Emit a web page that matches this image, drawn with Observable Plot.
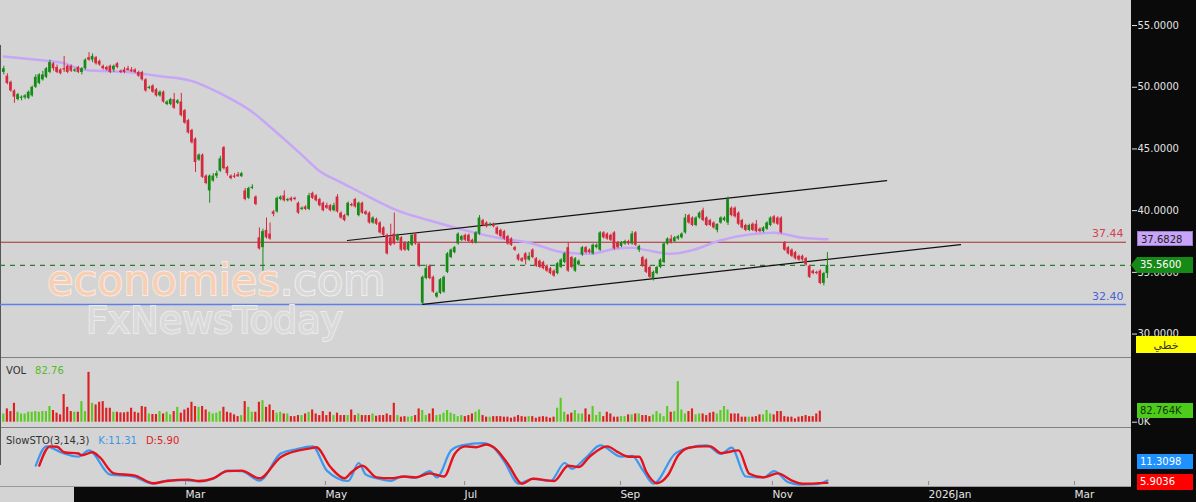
<!DOCTYPE html>
<html><head><meta charset="utf-8">
<script src="https://cdn.jsdelivr.net/npm/d3@7"></script>
<script src="https://cdn.jsdelivr.net/npm/@observablehq/plot@0.6"></script>
<style>
html,body{margin:0;padding:0;background:#d4d4d4;}
#wrap{position:relative;width:1196px;height:502px;overflow:hidden;background:#d4d4d4;font-family:"DejaVu Sans",sans-serif;}
.abs{position:absolute;}
.box{position:absolute;left:1137px;width:56px;height:15px;line-height:15px;font-size:10px;padding-left:3px;box-sizing:border-box;font-family:"DejaVu Sans",sans-serif;}
.lbl{position:absolute;font-size:10px;line-height:12px;white-space:nowrap;font-family:"DejaVu Sans",sans-serif;}
</style></head>
<body><div id="wrap"></div>
<script>
// ---------- DATA ----------
const opens = [51.2,50.9,50.4,49.7,49.0,49.1,49.15,49.1,49.3,50.0,
50.3,50.6,50.8,51.2,51.9,51.6,51.4,51.5,51.7,51.7,
51.3,51.6,51.2,51.5,52.4,52.2,52.4,52.1,51.7,51.6,
51.7,51.4,51.9,51.3,51.4,51.5,51.4,51.4,51.2,51.2,
50.6,49.9,50.1,49.8,49.3,49.6,48.6,48.6,49.0,48.7,
48.8,48.1,47.3,46.5,45.8,44.1,44.5,42.8,41.6,42.4,
42.8,43.2,45.1,43.5,42.8,42.8,42.9,42.75,41.6,41.0,
41.8,41.1,37.8,37.0,38.4,38.1,39.9,39.9,40.9,41.2,
40.8,41.0,41.0,40.6,40.1,40.3,40.1,41.4,41.2,40.9,
40.6,40.4,40.4,40.0,41.1,39.8,39.6,39.6,40.5,40.9,
39.6,40.6,39.9,39.8,39.0,39.3,39.0,38.6,38.0,37.8,
38.1,37.6,37.8,37.4,36.8,37.2,38.1,37.3,32.5,34.5,
35.5,34.6,33.0,33.3,33.4,35.0,36.2,36.6,37.3,37.6,
38.0,38.0,37.6,37.4,38.1,39.2,39.0,38.8,38.9,38.6,
38.4,38.3,37.9,37.7,37.0,36.4,36.1,36.5,36.0,36.8,
36.1,35.9,35.8,35.5,35.3,35.1,34.9,35.4,35.8,37.0,
36.2,35.1,35.6,36.4,37.0,36.8,36.5,37.0,36.8,38.2,
38.1,38.0,38.2,37.4,37.1,37.3,37.5,37.3,38.2,36.8,
36.2,36.0,35.4,34.5,34.9,35.4,35.8,37.3,37.7,37.5,
37.7,37.8,38.2,39.6,39.4,38.8,39.4,40.0,39.4,39.2,
39.0,38.4,39.0,39.2,39.0,40.2,40.2,39.8,39.2,38.8,
38.4,38.9,38.9,38.5,38.3,38.5,38.8,39.5,39.4,39.4,
37.4,37.0,36.8,36.6,36.3,36.3,36.1,35.5,35.1,35.0,
35.1,34.1,34.9];
const highs = [51.7,51.1,50.5,49.8,49.5,49.3,49.4,49.7,50.1,51.0,
51.1,51.3,51.6,52.2,52.0,51.8,51.5,52.5,51.8,51.8,
51.5,51.7,51.6,52.3,52.8,52.7,52.5,52.2,51.8,51.7,
51.8,51.8,52.0,51.4,51.6,51.7,51.6,51.5,51.3,51.3,
50.7,50.1,50.2,49.9,49.7,49.7,48.9,49.1,49.5,49.0,
49.5,48.2,47.4,46.6,45.9,44.6,44.6,42.9,42.9,43.0,
43.2,44.4,45.2,43.6,42.9,43.0,43.1,43.1,41.8,41.9,
42.1,41.2,38.6,38.5,39.4,39.0,40.0,41.1,41.2,41.6,
41.0,41.1,41.1,40.7,40.3,40.4,41.4,41.5,41.3,41.0,
40.7,40.6,40.5,40.6,41.3,39.9,39.7,40.7,40.6,41.0,
40.7,40.7,40.0,39.9,39.5,39.4,39.1,38.7,38.1,38.9,
39.8,38.1,37.9,37.5,37.5,38.1,38.2,37.4,34.7,35.6,
35.6,34.7,33.4,34.5,34.7,36.6,36.9,37.1,38.2,38.0,
38.1,38.1,37.7,38.3,39.6,39.3,39.1,39.0,39.0,38.7,
38.5,38.4,38.0,37.8,37.1,36.5,36.2,36.6,36.6,36.9,
36.2,36.0,35.9,35.6,35.4,35.2,35.8,36.1,36.6,37.4,
36.3,36.2,36.0,37.1,37.1,36.9,37.3,37.3,38.3,38.3,
38.2,38.1,38.3,37.5,37.5,37.6,37.6,38.3,38.3,37.2,
36.3,36.1,35.5,35.1,35.5,36.1,37.4,37.8,38.0,37.9,
38.0,38.2,39.7,39.7,39.5,39.5,39.9,40.2,39.5,39.3,
39.1,38.9,39.5,39.5,41.1,40.3,40.3,39.9,39.3,38.9,
38.9,39.0,39.2,38.6,38.7,39.1,39.5,39.6,39.5,39.5,
37.5,37.1,36.9,36.7,36.4,36.4,36.2,35.6,35.2,35.1,
35.2,35.0,36.6];
const lows = [51.0,50.2,49.6,48.7,48.9,48.9,49.0,49.0,49.2,49.9,
50.2,50.5,50.7,51.1,51.3,51.1,51.0,51.2,51.1,51.2,
51.2,51.1,51.0,51.4,52.1,52.0,51.8,51.7,51.4,51.3,
51.1,51.2,51.5,51.1,51.1,51.3,51.2,51.1,50.8,50.5,
49.6,49.8,49.5,49.2,49.2,48.7,48.5,48.5,48.2,48.6,
47.6,47.0,46.2,45.4,43.1,44.0,42.6,42.1,40.6,42.3,
42.6,43.1,43.3,42.8,42.5,42.6,42.7,42.7,40.8,40.9,
41.7,40.4,36.8,35.1,37.7,37.6,39.5,39.8,40.8,40.7,
40.7,40.7,40.8,39.7,40.0,40.0,40.0,40.9,40.7,40.3,
39.9,40.1,39.9,39.9,39.8,39.3,39.1,39.5,40.3,40.2,
39.5,39.7,39.6,38.9,38.9,38.8,38.1,37.9,36.4,37.1,
37.2,37.5,36.7,36.7,36.7,37.1,37.2,35.4,32.4,34.4,
34.4,33.3,32.9,33.2,33.3,34.9,36.1,36.5,37.2,37.5,
37.5,37.4,37.3,37.3,38.0,38.7,38.6,38.7,38.6,38.0,
37.8,37.6,37.2,37.1,36.7,35.9,35.8,35.6,35.9,36.1,
35.4,35.3,35.2,35.0,34.8,34.6,34.8,35.3,35.7,35.0,
35.3,35.0,35.5,36.3,36.5,36.5,36.4,36.9,36.7,37.7,
37.6,37.5,36.8,36.9,37.0,37.2,37.2,37.2,37.1,36.6,
35.4,34.9,34.5,34.3,34.8,35.3,35.7,37.2,37.3,37.4,
37.6,37.7,38.1,38.9,38.7,38.7,39.3,39.1,38.7,38.7,
38.5,38.2,38.9,39.1,38.8,39.5,39.4,38.8,38.5,38.3,
38.3,38.3,38.2,38.2,38.2,38.4,38.7,38.9,38.8,38.1,
36.7,36.4,36.2,36.0,35.9,35.9,35.5,34.5,34.8,34.8,
34.0,33.9,34.5];
const closes = [51.5,50.3,49.7,49.2,49.4,49.2,49.3,49.6,50.0,50.8,
51.0,51.0,51.5,52.0,51.5,51.2,51.1,51.4,51.2,51.3,
51.4,51.2,51.5,52.2,52.2,52.5,51.9,51.8,51.5,51.4,
51.2,51.7,51.6,51.2,51.2,51.35,51.25,51.2,50.9,50.6,
49.7,50.0,49.6,49.3,49.6,48.8,48.8,49.0,48.3,48.9,
47.7,47.1,46.3,45.5,43.9,44.5,42.7,42.2,42.8,42.8,
43.0,44.2,43.4,43.0,42.6,42.7,42.75,43.0,40.9,41.8,
41.9,40.5,36.9,38.3,37.8,37.7,39.7,41.0,41.1,40.8,
40.9,40.8,40.9,39.8,40.2,40.1,41.2,41.0,40.8,40.4,
40.0,40.2,40.0,40.4,39.9,39.4,39.2,40.6,40.4,40.3,
40.6,39.8,39.7,39.0,39.4,38.9,38.2,38.0,36.5,37.2,
37.3,38.0,36.8,36.8,37.4,38.0,37.3,35.5,34.6,35.3,
34.5,33.4,33.3,34.4,34.6,36.5,36.8,37.0,38.1,37.9,
37.6,37.5,37.4,38.2,39.4,38.8,38.7,38.9,38.7,38.1,
37.9,37.7,37.3,37.2,36.8,36.0,35.9,36.0,36.3,36.2,
35.5,35.4,35.3,35.1,34.9,34.7,35.7,36.0,36.5,35.1,
35.4,36.1,35.9,37.0,36.6,36.6,37.2,37.2,38.2,37.8,
37.7,37.6,36.9,37.0,37.4,37.5,37.3,38.1,37.2,37.1,
35.5,35.0,34.6,35.0,35.4,36.0,37.3,37.7,37.4,37.8,
37.9,38.1,39.4,39.0,38.8,39.4,39.8,39.2,38.8,38.8,
38.6,38.9,39.4,39.4,40.9,39.6,39.5,38.9,38.6,38.4,
38.8,38.4,38.3,38.3,38.6,39.0,39.4,39.0,38.9,38.2,
36.8,36.5,36.3,36.1,36.0,36.0,35.6,34.6,34.9,34.9,
34.1,34.9,35.56];
// volume in thousands
const volumes = [62,100,80,142,75,62,62,75,75,
80,75,80,80,118,88,68,55,208,112,
80,75,75,155,80,375,142,130,150,
155,105,105,75,75,70,70,75,105,75,
68,118,112,62,58,58,80,62,
75,55,80,112,68,92,105,150,118,112,
118,92,75,62,68,80,112,75,68,55,
42,50,155,112,75,75,150,162,112,130,
88,68,75,62,62,42,42,50,50,62,
75,92,62,50,80,50,75,50,68,
50,50,50,92,50,62,50,50,
50,62,45,50,50,62,50,142,50,
38,42,38,42,50,100,88,50,62,100,
50,55,68,88,68,58,42,50,42,50,
62,75,92,50,38,38,42,42,42,
38,38,30,38,50,42,38,42,
42,30,38,42,38,30,38,105,180,
75,55,68,88,62,62,100,55,118,50,
75,42,75,62,38,38,42,42,55,
55,62,62,50,50,42,55,80,
62,42,118,75,80,305,
92,62,80,100,55,62,62,50,68,75,
62,88,118,92,62,62,62,38,38,38,
38,42,55,55,88,62,55,80,80,42,
38,38,25,38,42,50,42,42,62,82.764];
// 50-day moving average read at sample points (trading-day index, price)
const maIdx = [0,10,16,23,36,44,53,55,61,70,75,84,89,95,103,111,120,130,139,148,158,165,172,177,181,188,194,202,211,217,225,232];
const maVal = [52.5,52.2,52.0,51.4,51.2,50.9,50.5,50.3,49.5,48.0,46.8,44.5,43.2,42.3,41.1,40.0,39.2,38.4,37.8,37.4,36.6,36.5,36.9,37.0,36.8,36.5,36.8,37.6,38.1,38.2,37.8,37.6828];
// SlowSTO(3,14,3) %K and %D read at sample points
const kIdx = [9,12,16,21,24,30,36,42,46,51,55,59,63,67,72,78,82,87,91,97,100,102,105,109,112,116,120,122,126,129,135,138,141,145,149,154,158,160,164,168,174,177,180,183,189,193,198,202,205,209,214,217,221,224,229,232];
const kVal = [44,87,74,64,78,24,21,4,11,12,9,15,33,32,11,71,80,87,33,10,50,24,16,10,20,17,32,18,78,89,94,84,53,4,15,10,50,37,62,89,64,66,34,4,70,84,89,70,84,20,18,32,7,2,3,11.3098];
const dIdx = [10,13,15,17,21,22,25,27,31,37,42,46,52,55,59,63,67,72,78,82,86,88,92,96,98,101,105,109,113,116,120,124,127,130,133,136,138,142,146,149,155,159,162,165,170,173,176,179,181,184,187,190,193,197,199,202,207,210,214,218,222,225,232];
const dVal = [44,87,86,74,71,67,74,63,27,22,5,10,13,10,16,32,33,16,63,76,82,85,41,16,30,44,18,16,20,18,27,20,70,87,85,91,85,48,4,15,10,44,41,64,87,74,64,64,30,5,22,67,84,87,87,72,78,26,18,27,11,4,5.9];
// trend channel (index, price)
const upperIdx = [96.8, 248.7], upperVal = [37.58, 42.44];
const lowerIdx = [118, 269.5], lowerVal = [32.40, 37.25];
// horizontal levels
const levelRed = 37.44, levelBlue = 32.40, lastClose = 35.56;
const lastMA = 37.6828, lastVol = 82.764, lastK = 11.3098, lastD = 5.9036;
const volLabel = "82.76", kLabel = "11.31", dLabel = "5.90";
const priceTicks = [30, 35, 40, 45, 50, 55];
const dateTickIdx = [51.2, 90.6, 129.8, 173.7, 216.5, 260.5, 301.6];
const dateTickLabels = ["Mar", "May", "Jul", "Sep", "Nov", "2026Jan", "Mar"];

// ---------- LAYOUT ----------
const W = 1196, AX = 1131;
const X_DOMAIN = [-0.93, 317.66];
const G_C = "#158a15", R_C = "#d42a3e", G_V = "#5acb22", R_V = "#dd1f1f";
const wrap = document.getElementById("wrap");
const FONT = "DejaVu Sans";

function addDiv(css, html) { const d = document.createElement("div"); d.style.cssText = css; if (html != null) d.innerHTML = html; wrap.appendChild(d); return d; }
function place(el, top) { el.style.position = "absolute"; el.style.left = "0px"; el.style.top = top + "px"; el.style.maxWidth = "none"; wrap.appendChild(el); }

// background panels
addDiv(`position:absolute;left:${AX}px;top:0;width:${W-AX}px;height:502px;background:#0a0a0a;`);
addDiv(`position:absolute;left:74px;top:486px;width:${AX-74}px;height:16px;background:#0a0a0a;`);
addDiv(`position:absolute;left:0;top:486px;width:${AX}px;height:1px;background:#9a9a9a;`);
addDiv(`position:absolute;left:0;top:357px;width:${AX}px;height:1px;background:#808080;`);
addDiv(`position:absolute;left:0;top:427px;width:${AX}px;height:1px;background:#808080;`);
addDiv(`position:absolute;left:0;top:45px;width:1px;height:420px;background:#555;`);

const candles = opens.map((o, i) => ({i, o, h: highs[i], l: lows[i], c: closes[i], up: closes[i] >= o}));
const ma = maIdx.map((i, j) => ({i, v: maVal[j]}));
const upper = upperIdx.map((i, j) => ({i, p: upperVal[j]}));
const lower = lowerIdx.map((i, j) => ({i, p: lowerVal[j]}));
const baseStyle = {background: "transparent", fontFamily: FONT, fontSize: "10px", overflow: "visible"};

// ---------- PRICE PANEL ----------
const pricePlot = Plot.plot({
  width: W, height: 357, marginLeft: 0, marginRight: W - AX, marginTop: 0, marginBottom: 0,
  x: {domain: X_DOMAIN, axis: null},
  y: {domain: [28.10, 57.03], axis: null},
  color: {type: "identity"},
  style: baseStyle,
  marks: [
    Plot.axisY({anchor: "right", ticks: priceTicks, tickFormat: d3.format(".4f"), tickSize: 5, tickPadding: 1, fontSize: 10, color: "#e2e2e2", label: null}),
    Plot.ruleY([levelRed], {stroke: "#a82a34", strokeWidth: 1, insetRight: 5}),
    Plot.ruleY([levelBlue], {stroke: "#5b80e8", strokeWidth: 1.5, insetRight: 5}),
    Plot.ruleY([lastClose], {stroke: "#2a7d2a", strokeWidth: 1.2, strokeDasharray: "5,5"}),
    Plot.text([levelRed], {y: d => d, text: d => d.toFixed(2), frameAnchor: "right", textAnchor: "end", dx: -8, dy: -9, fill: "#d8404c", fontSize: 11}),
    Plot.text([levelBlue], {y: d => d, text: d => d.toFixed(2), frameAnchor: "right", textAnchor: "end", dx: -8, dy: -8, fill: "#4a62d8", fontSize: 11}),
    Plot.line(ma, {x: "i", y: "v", stroke: "#c6a6f6", strokeWidth: 2.5, curve: "monotone-x"}),
    Plot.line(upper, {x: "i", y: "p", stroke: "#111", strokeWidth: 1.2}),
    Plot.line(lower, {x: "i", y: "p", stroke: "#111", strokeWidth: 1.2}),
    Plot.ruleX(candles, {x: "i", y1: "l", y2: "h", stroke: d => d.up ? G_C : R_C, strokeWidth: 1}),
    Plot.rect(candles, {x1: d => d.i - 0.38, x2: d => d.i + 0.38, y1: d => Math.min(d.o, d.c), y2: d => Math.max(d.o, d.c), fill: d => d.up ? G_C : R_C})
  ]
});
place(pricePlot, 0);

// watermark
const wm = document.createElementNS("http://www.w3.org/2000/svg", "svg");
wm.setAttribute("width", "1196"); wm.setAttribute("height", "357");
wm.style.cssText = "position:absolute;left:0;top:0;";
wm.innerHTML = `<text x="47" y="295" font-family="${FONT}" font-size="43" fill="#f8cfb2" stroke="#f3ece8" stroke-width="2" paint-order="stroke">economies<tspan fill="#d9d9d9" stroke="#f0f0f0">.com</tspan></text>
<text x="86" y="333" font-family="${FONT}" font-size="38" fill="#dadada" stroke="#ebebeb" stroke-width="2" paint-order="stroke">FxNewsToday</text>`;
wrap.appendChild(wm);

// ---------- VOLUME PANEL ----------
const volPlot = Plot.plot({
  width: W, height: 70, marginLeft: 0, marginRight: W - AX, marginTop: 0, marginBottom: 5.3,
  x: {domain: X_DOMAIN, axis: null},
  y: {domain: [0, 486.8], axis: null},
  color: {type: "identity"},
  style: baseStyle,
  marks: [
    Plot.axisY({anchor: "right", ticks: [0], tickFormat: d => d + "K", tickSize: 5, tickPadding: 1, fontSize: 10, color: "#e2e2e2", label: null}),
    Plot.rect(candles, {x1: d => d.i - 0.3, x2: d => d.i + 0.3, y1: 0, y2: d => volumes[d.i], fill: d => d.up ? G_V : R_V})
  ]
});
place(volPlot, 357);

// ---------- STOCHASTIC PANEL ----------
const kLine = kIdx.map((i, j) => ({i, v: kVal[j]}));
const dLine = dIdx.map((i, j) => ({i, v: dVal[j]}));
const stoPlot = Plot.plot({
  width: W, height: 75, marginLeft: 0, marginRight: W - AX, marginTop: 13, marginBottom: 17,
  x: {domain: X_DOMAIN, axis: null},
  y: {domain: [0, 100], axis: null},
  color: {type: "identity"},
  style: baseStyle,
  marks: [
    Plot.line(kLine, {x: "i", y: "v", stroke: "#3a98ee", strokeWidth: 2.2, curve: "monotone-x"}),
    Plot.line(dLine, {x: "i", y: "v", stroke: "#e3121c", strokeWidth: 2.4, curve: "monotone-x"}),
    Plot.ruleX(dateTickIdx, {x: d => d, insetTop: 41, stroke: "#8c8c8c"}),
    Plot.text(dateTickIdx, {x: d => d, text: (d, i) => dateTickLabels[i], frameAnchor: "bottom", textAnchor: "start", lineAnchor: "middle", dy: 9, fill: "#e4e4e4", fontSize: 10.5})
  ]
});
place(stoPlot, 427);

// ---------- PANEL TITLES ----------
addDiv("position:absolute;left:6px;top:359px;", `<span class="lbl" style="position:static;color:#333">VOL</span><span class="lbl" style="position:static;color:#55bb22;margin-left:9px">${volLabel}</span>`);
addDiv("position:absolute;left:6px;top:429px;", `<span class="lbl" style="position:static;color:#333">SlowSTO(3,14,3)</span><span class="lbl" style="position:static;color:#3a96e8;margin-left:9px">K:${kLabel}</span><span class="lbl" style="position:static;color:#e02020;margin-left:9px">D:${dLabel}</span>`);

// ---------- RIGHT-SIDE VALUE TAGS ----------
const yP = pricePlot.scale("y"), yV = volPlot.scale("y"), yS = stoPlot.scale("y");
const maTop = yP.apply(lastMA) - 8;
addDiv(`top:${maTop}px;background:#c8a4f8;color:#222;border:1px solid #9a78d0;`, lastMA.toFixed(4)).className = "box";
const clTop = yP.apply(lastClose) - 8;
addDiv(`position:absolute;left:1131px;top:${clTop}px;width:0;height:0;border-top:8px solid transparent;border-bottom:8px solid transparent;border-right:6px solid #168a16;`);
const cb = addDiv(`top:${clTop}px;height:16px;line-height:16px;background:#168a16;color:#fff;`, lastClose.toFixed(4)); cb.className = "box";
const yb = addDiv(`position:absolute;left:1136px;top:336px;width:60px;height:17px;line-height:17px;background:#ffff00;color:#333;font-size:11px;text-align:center;font-family:"Noto Sans","DejaVu Sans",sans-serif;direction:rtl;`, "خطي");
const vTop = 357 + yV.apply(lastVol) - 7.5;
addDiv(`top:${vTop}px;background:#4ccb1a;color:#14330a;`, lastVol.toFixed(3) + "K").className = "box";
const dTop = 427 + yS.apply(lastD) - 8;
addDiv(`top:${dTop}px;height:16px;line-height:16px;background:#ff0000;color:#fff;`, lastD.toFixed(4)).className = "box";
addDiv(`top:${dTop - 20}px;background:#1e90ff;color:#fff;`, lastK.toFixed(4)).className = "box";
</script>
</body></html>
